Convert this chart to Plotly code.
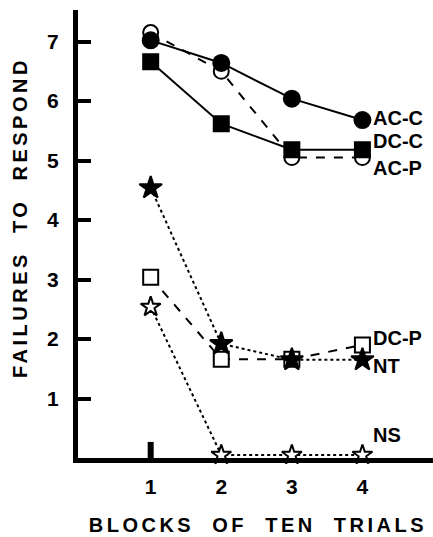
import plotly.graph_objects as go

blocks = [1, 2, 3, 4]
ac_c = [7.02, 6.64, 6.04, 5.68]
ac_p = [7.15, 6.50, 5.05, 5.05]
dc_c = [6.66, 5.62, 5.18, 5.18]
dc_p = [3.04, 1.66, 1.66, 1.90]
nt = [4.54, 1.92, 1.65, 1.65]
ns = [2.54, 0.05, 0.05, 0.05]

y_ticks = [1, 2, 3, 4, 5, 6, 7]
x_ticks = [1, 2, 3, 4]

FONT = "Liberation Sans"
BLACK = "black"

fig = go.Figure()

def add(y, name, symbol, filled, dash, size):
    fig.add_trace(go.Scatter(
        x=blocks, y=y, name=name, mode="lines+markers",
        line=dict(color=BLACK, width=2, dash=dash),
        marker=dict(symbol=symbol, size=size, color=BLACK if filled else "white",
                    line=dict(color=BLACK, width=2)),
        cliponaxis=False, showlegend=False,
    ))

add(ac_p, "AC-P", "circle", False, "dash", 15)
add(dc_p, "DC-P", "square", False, "dash", 15)
add(ns, "NS", "star", False, "dot", 15)
add(ac_c, "AC-C", "circle", True, "solid", 16)
add(dc_c, "DC-C", "square", True, "solid", 15)
add(nt, "NT", "star", True, "dot", 17)

labels = [("AC-C", ac_c[-1], 2), ("DC-C", dc_c[-1], 9), ("AC-P", ac_p[-1], -10),
          ("DC-P", dc_p[-1], 7), ("NT", nt[-1], -6), ("NS", ns[-1], 20)]
for txt, yv, ys in labels:
    fig.add_annotation(x=blocks[-1], y=yv, text=txt, showarrow=False, xanchor="left",
                       xshift=10, yshift=ys, borderpad=0,
                       font=dict(family=FONT, size=20, color=BLACK, weight="bold"))

# single x tick mark at first block
fig.add_shape(type="line", x0=blocks[0], x1=blocks[0], y0=0, y1=0.27,
              line=dict(color=BLACK, width=6))

fig.add_annotation(xref="paper", yref="paper", x=0.508, y=0, yshift=-67, yanchor="middle",
                   text="BLOCKS\u00a0\u00a0OF\u00a0\u00a0TEN\u00a0\u00a0TRIALS", showarrow=False,
                   font=dict(family=FONT, size=20, color=BLACK, weight="bold"))
fig.add_annotation(xref="paper", yref="paper", x=0, xshift=-58, y=0.535, xanchor="center",
                   textangle=-90,
                   text="FAILURES\u00a0\u00a0TO\u00a0\u00a0RESPOND", showarrow=False,
                   font=dict(family=FONT, size=20, color=BLACK, weight="bold"))

fig.update_layout(
    width=433, height=537,
    margin=dict(l=78, r=0, t=10, b=79),
    paper_bgcolor="white", plot_bgcolor="white",
    font=dict(family=FONT, color=BLACK),
    xaxis=dict(range=[-0.03, 5.0], showgrid=False, zeroline=False, showline=True,
               linecolor=BLACK, linewidth=5, tickvals=x_ticks, ticks="",
               ticklabelstandoff=6, tickfont=dict(size=21, family=FONT, weight="bold")),
    yaxis=dict(range=[0, 7.53], showgrid=False, zeroline=False, showline=True,
               linecolor=BLACK, linewidth=5, tickvals=y_ticks, ticks="inside",
               ticklen=13, tickwidth=4, tickcolor=BLACK, ticklabelstandoff=10,
               tickfont=dict(size=21, family=FONT, weight="bold")),
)

fig.write_html("out.html", config={"displayModeBar": False}, post_script="""
var s=document.createElement('style');
s.textContent='html,body{margin:0;padding:0;overflow:hidden}';
document.head.appendChild(s);
document.querySelectorAll('.annotation-text').forEach(function(t){
  var c=t.textContent;
  if(c.indexOf('BLOCKS')>=0||c.indexOf('FAILURES')>=0){t.style.letterSpacing='3.5px';}
});
""")
